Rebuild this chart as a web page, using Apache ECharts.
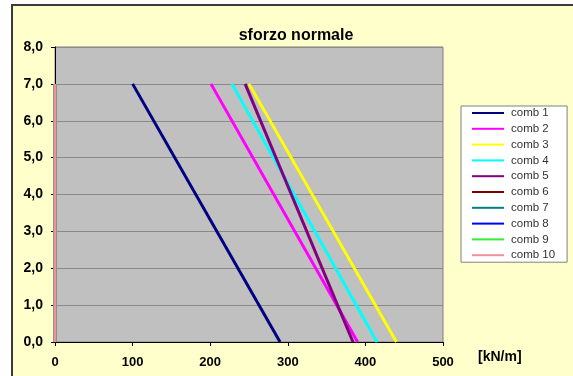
<!DOCTYPE html>
<html>
<head>
<meta charset="utf-8">
<style>
  html, body { margin: 0; padding: 0; background: #ffffff; }
  #chart { width: 573px; height: 376px; }
</style>
<script src="https://cdn.jsdelivr.net/npm/echarts@6/dist/echarts.min.js"></script>
</head>
<body>
<div id="chart"></div>
<script>
// Normal force [kN/m] along the height (0 m at the base, 7 m at the top)
const heights = [7, 0];
const seriesNames = ['comb 1', 'comb 2', 'comb 3', 'comb 4', 'comb 5',
                     'comb 6', 'comb 7', 'comb 8', 'comb 9', 'comb 10'];
const comb1 = [100, 290];
const comb2 = [201, 390];
const comb3 = [250, 440];
const comb4 = [228, 415];
const comb5 = [245, 384];
const comb6 = [0, 0];
const comb7 = [0, 0];
const comb8 = [0, 0];
const comb9 = [0, 0];
const comb10 = [0, 0];
const seriesValues = [comb1, comb2, comb3, comb4, comb5, comb6, comb7, comb8, comb9, comb10];
const seriesColors = ['#000080', '#ff00ff', '#ffff00', '#00ffff', '#800080',
                      '#800000', '#008080', '#0000ff', '#33ee33', '#f2909c'];
const xTicks = { min: 0, max: 500, step: 100 };
const yTicks = { min: 0, max: 8, step: 1 };

const FONT = '"Liberation Sans", Arial, sans-serif';

const chart = echarts.init(document.getElementById('chart'), null, { renderer: 'canvas' });

const series = seriesNames.map((name, i) => ({
  name: name,
  type: 'line',
  symbol: 'none',
  clip: false,
  data: seriesValues[i].map((v, k) => [v, heights[k]]),
  lineStyle: { color: seriesColors[i], width: 3 },
  itemStyle: { color: seriesColors[i] },
  animation: false
}));

chart.setOption({
  backgroundColor: '#ffffff',
  animation: false,
  graphic: [
    {
      type: 'rect',
      z: -10,
      silent: true,
      shape: { x: 12, y: 5, width: 620, height: 420 },
      style: { fill: '#ffffcc', stroke: '#3a3a3a', lineWidth: 2 }
    },
    {
      type: 'text',
      left: 478,
      top: 350,
      style: {
        text: '[kN/m]',
        font: 'bold 14px ' + FONT,
        fill: '#000000'
      }
    }
  ],
  title: {
    text: 'sforzo normale',
    left: 291,
    top: 23,
    textAlign: 'center',
    textStyle: { fontFamily: FONT, fontSize: 16, fontWeight: 'bold', color: '#000000' }
  },
  legend: {
    orient: 'vertical',
    left: 461,
    top: 106,
    padding: [1, 12, 1, 11],
    itemGap: 3.8,
    itemWidth: 32,
    itemHeight: 2,
    icon: 'rect',
    backgroundColor: '#ffffff',
    borderColor: '#808080',
    borderWidth: 1,
    borderRadius: 0,
    selectedMode: false,
    textStyle: { fontFamily: FONT, fontSize: 11.5, color: '#333333', lineHeight: 12, padding: [0, 0, 0, 2] },
    data: seriesNames
  },
  grid: {
    left: 55,
    right: 130,
    top: 47,
    bottom: 34,
    show: true,
    backgroundColor: '#c0c0c0',
    borderColor: '#808080',
    borderWidth: 1,
    containLabel: false
  },
  xAxis: {
    type: 'value',
    min: xTicks.min,
    max: xTicks.max,
    interval: xTicks.step,
    axisLine: { show: true, onZero: false, lineStyle: { color: '#000000', width: 1 } },
    axisTick: { show: true, inside: false, length: 4, lineStyle: { color: '#000000' } },
    splitLine: { show: false },
    axisLabel: {
      margin: 14,
      fontFamily: FONT,
      fontSize: 13,
      fontWeight: 'bold',
      color: '#000000'
    }
  },
  yAxis: {
    type: 'value',
    min: yTicks.min,
    max: yTicks.max,
    interval: yTicks.step,
    axisLine: { show: true, onZero: false, lineStyle: { color: '#000000', width: 1 } },
    axisTick: { show: true, inside: false, length: 4, lineStyle: { color: '#000000' } },
    splitLine: { show: true, lineStyle: { color: '#8a8a8a', width: 1 } },
    axisLabel: {
      margin: 12,
      fontFamily: FONT,
      fontSize: 14,
      fontWeight: 'bold',
      color: '#000000',
      formatter: v => v.toFixed(1).replace('.', ',')
    }
  },
  series: series
});
</script>
</body>
</html>
